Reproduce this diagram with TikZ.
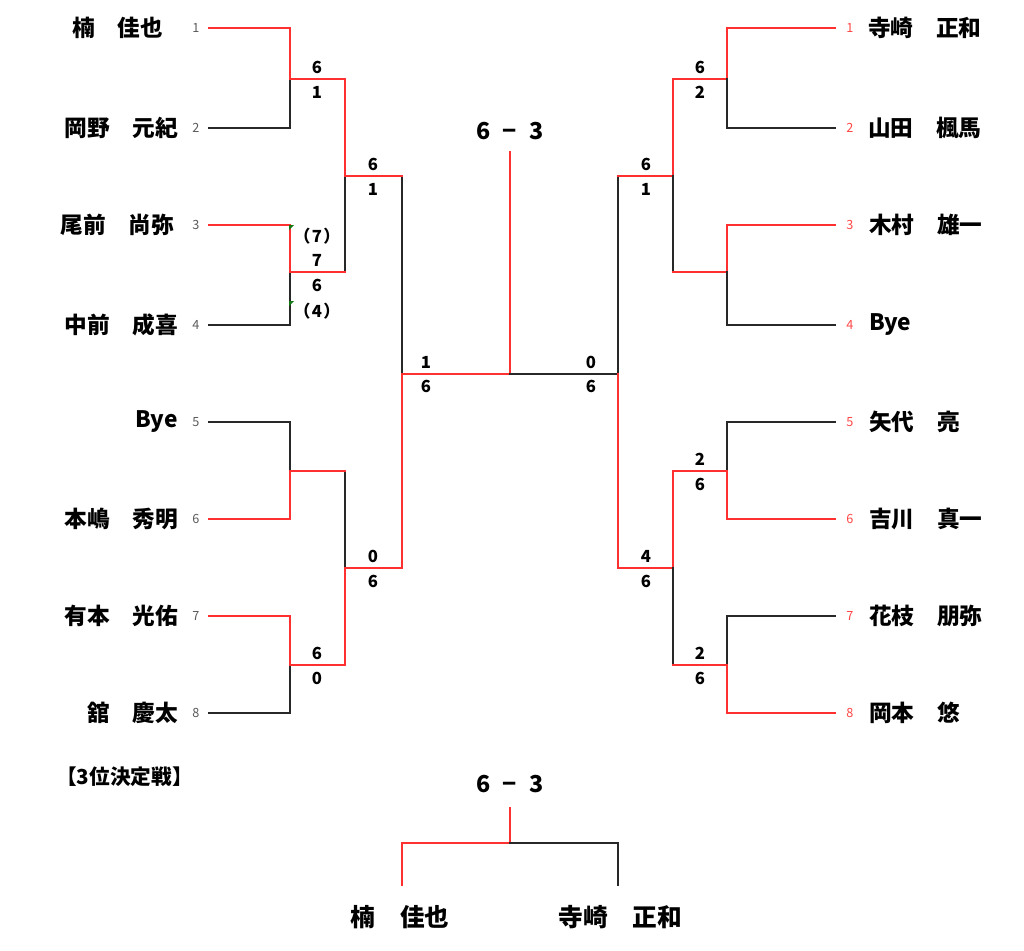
\documentclass[tikz,border=0pt]{standalone}
\usepackage{fontspec}
\setmainfont{Noto Sans CJK JP}
\definecolor{wred}{RGB}{255,48,48}
\definecolor{lblk}{RGB}{40,40,40}
\definecolor{sgray}{RGB}{90,90,90}
\definecolor{nred}{RGB}{255,70,70}
\definecolor{cgreen}{RGB}{20,120,20}
\tikzset{
  win/.style={draw=wred,line width=1.5pt,line cap=rect},
  lose/.style={draw=lblk,line width=1.5pt,line cap=rect},
  pname/.style={font=\bfseries\fontsize{17}{20}\selectfont,inner sep=0pt},
  bname/.style={font=\bfseries\fontsize{18.5}{22}\selectfont,inner sep=0pt},
  seedl/.style={font=\fontsize{9.5}{11}\selectfont,text=sgray,inner sep=0pt},
  seedr/.style={font=\fontsize{9.5}{11}\selectfont,text=nred,inner sep=0pt},
  score/.style={font=\bfseries\fontsize{12.5}{14}\selectfont,inner sep=0pt},
  big/.style={font=\bfseries\fontsize{17.5}{20}\selectfont,inner sep=0pt},
  ttl/.style={font=\bfseries\fontsize{15.5}{18}\selectfont,inner sep=0pt,anchor=west}
}
\begin{document}
\begin{tikzpicture}[x=0.75pt,y=-0.75pt]
\useasboundingbox (0,0) rectangle (1024,950);
% ---------- left names ----------
\node[pname,anchor=east] (nL1) at (163,28) {楠　佳也};
\node[pname,anchor=east] (nL2) at (178,128) {岡野　元紀};
\node[pname,anchor=east] (nL3) at (174,225) {尾前　尚弥};
\node[pname,anchor=east] (nL4) at (178,325) {中前　成喜};
\node[pname,anchor=east] (nL5) at (178,422) {Bye};
\node[pname,anchor=east] (nL6) at (178,519) {本嶋　秀明};
\node[pname,anchor=east] (nL7) at (178,616) {有本　光佑};
\node[pname,anchor=east] (nL8) at (178,713) {舘　慶太};
\foreach \i/\y in {1/28,2/128,3/225,4/325,5/422,6/519,7/616,8/713}{
  \node[seedl] (sL\i) at (196,\y) {\i};
  \coordinate (lp\i) at (209,\y);
}
% ---------- right names ----------
\node[pname,anchor=west] (nR1) at (868,28) {寺崎　正和};
\node[pname,anchor=west] (nR2) at (868,128) {山田　楓馬};
\node[pname,anchor=west] (nR3) at (869,225) {木村　雄一};
\node[pname,anchor=west] (nR4) at (869,325) {Bye};
\node[pname,anchor=west] (nR5) at (869,422) {矢代　亮};
\node[pname,anchor=west] (nR6) at (869,519) {吉川　真一};
\node[pname,anchor=west] (nR7) at (869,616) {花枝　朋弥};
\node[pname,anchor=west] (nR8) at (869,713) {岡本　悠};
\foreach \i/\y in {1/28,2/128,3/225,4/325,5/422,6/519,7/616,8/713}{
  \node[seedr] (sR\i) at (850,\y) {\i};
  \coordinate (rp\i) at (835,\y);
}
% ---------- junctions ----------
\coordinate (j1) at (290,79);
\coordinate (j2) at (290,272);
\coordinate (j3) at (290,471);
\coordinate (j4) at (290,665);
\coordinate (k1) at (345,176);
\coordinate (k2) at (345,568);
\coordinate (m) at (402,374);
\coordinate (c) at (510,374);
\coordinate (ctop) at (510,152);
\coordinate (rm) at (618,374);
\coordinate (rk1) at (673,176);
\coordinate (rk2) at (673,568);
\coordinate (rj1) at (727,79);
\coordinate (rj2) at (727,272);
\coordinate (rj3) at (727,471);
\coordinate (rj4) at (727,665);
% ---------- left bracket ----------
\draw[win] (lp1) -| (j1);
\draw[lose] (lp2) -| (j1);
\draw[win] (lp3) -| (j2);
\draw[lose] (lp4) -| (j2);
\draw[lose] (lp5) -| (j3);
\draw[win] (lp6) -| (j3);
\draw[win] (lp7) -| (j4);
\draw[lose] (lp8) -| (j4);
\draw[win] (j1) -- (j1 -| k1) -- (k1);
\draw[lose] (j2 -| k1) -- (k1);
\draw[win] (j2) -- (j2 -| k1);
\draw[lose] (j3 -| k2) -- (k2);
\draw[win] (j3) -- (j3 -| k2);
\draw[win] (j4) -- (j4 -| k2) -- (k2);
\draw[lose] (k1 -| m) -- (m);
\draw[win] (k1) -- (k1 -| m);
\draw[win] (k2) -- (k2 -| m) -- (m);
\draw[win] (m) -- (c) -- (ctop);
\draw[lose] (c) -- (rm);
% ---------- right bracket ----------
\draw[lose] (rk1 -| rm) -- (rm);
\draw[win] (rk2 -| rm) -- (rm);
\draw[win] (rk1) -- (rk1 -| rm);
\draw[win] (rk2) -- (rk2 -| rm);
\draw[win] (rj1) -- (rj1 -| rk1) -- (rk1);
\draw[lose] (rj2 -| rk1) -- (rk1);
\draw[win] (rj2) -- (rj2 -| rk1);
\draw[win] (rj3) -- (rj3 -| rk2) -- (rk2);
\draw[lose] (rj4 -| rk2) -- (rk2);
\draw[win] (rj4) -- (rj4 -| rk2);
\draw[win] (rp1) -| (rj1);
\draw[lose] (rp2) -| (rj1);
\draw[win] (rp3) -| (rj2);
\draw[lose] (rp4) -| (rj2);
\draw[lose] (rp5) -| (rj3);
\draw[win] (rp6) -| (rj3);
\draw[lose] (rp7) -| (rj4);
\draw[win] (rp8) -| (rj4);
% ---------- scores ----------
\node[score] (s1a) at (317,67) {6};
\node[score] (s1b) at (317,92) {1};
\node[score] (s2a) at (317,236) {（\kern1pt7\kern1pt）};
\node[score] (s2b) at (317,260) {7};
\node[score] (s2c) at (317,285) {6};
\node[score] (s2d) at (317,311) {（\kern1pt4\kern1pt）};
\node[score] (s4a) at (317,653) {6};
\node[score] (s4b) at (317,678) {0};
\node[score] (t1a) at (373,164) {6};
\node[score] (t1b) at (373,189) {1};
\node[score] (t2a) at (373,556) {0};
\node[score] (t2b) at (373,581) {6};
\node[score] (fla) at (426,362) {1};
\node[score] (flb) at (426,386) {6};
\node[score] (fra) at (591,362) {0};
\node[score] (frb) at (591,386) {6};
\node[score] (u1a) at (646,164) {6};
\node[score] (u1b) at (646,189) {1};
\node[score] (u2a) at (646,556) {4};
\node[score] (u2b) at (646,581) {6};
\node[score] (v1a) at (700,67) {6};
\node[score] (v1b) at (700,92) {2};
\node[score] (v3a) at (700,459) {2};
\node[score] (v3b) at (700,484) {6};
\node[score] (v4a) at (700,653) {2};
\node[score] (v4b) at (700,678) {6};
\node[big] (final) at (510,131) {6\kern9pt−\kern9pt3};
% comment markers
\fill[cgreen] (289,225) -- (294,225) -- (289,230) -- cycle;
\fill[cgreen] (289,301) -- (294,301) -- (289,306) -- cycle;
% ---------- third place ----------
\node[ttl] (ttl) at (56,777) {【3位決定戦】};
\node[big] (third) at (510,784) {6\kern9pt−\kern9pt3};
\coordinate (bc) at (510,843);
\coordinate (btop) at (510,808);
\coordinate (bl) at (402,843);
\coordinate (br) at (618,843);
\coordinate (blb) at (402,885);
\coordinate (brb) at (618,885);
\draw[win] (btop) -- (bc);
\draw[win] (bc) -- (bl) -- (blb);
\draw[lose] (bc) -- (br) -- (brb);
\node[bname] (bn1) at (400,917) {楠　佳也};
\node[bname] (bn2) at (620,917) {寺崎　正和};
\end{tikzpicture}
\end{document}
